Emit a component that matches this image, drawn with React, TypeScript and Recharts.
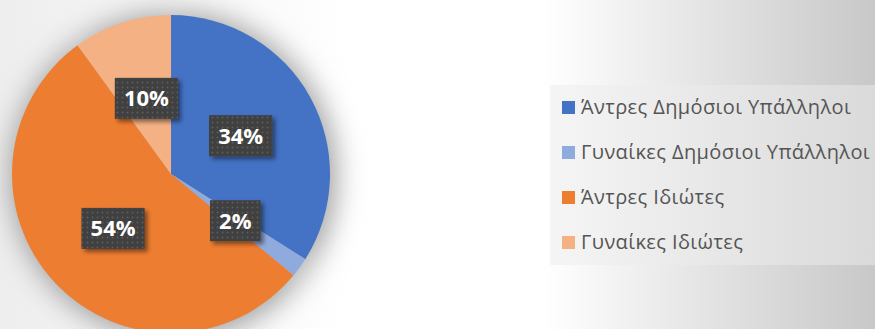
import { PieChart, Pie, Cell, Legend } from 'recharts'

const categories = [
  'Άντρες Δημόσιοι Υπάλληλοι',
  'Γυναίκες Δημόσιοι Υπάλληλοι',
  'Άντρες Ιδιώτες',
  'Γυναίκες Ιδιώτες',
]
const shares = [34, 2, 54, 10]
const colors = ['#4472C4', '#8FAADC', '#ED7D31', '#F4B183']

const data = categories.map((name, i) => ({ name, value: shares[i] }))

const RAD = Math.PI / 180

function DataLabel(props: any) {
  const { cx, cy, midAngle, outerRadius, percent } = props
  const r = outerRadius * 0.5
  const x = cx + r * Math.cos(-midAngle * RAD)
  const y = cy + r * Math.sin(-midAngle * RAD)
  const text = `${Math.round(percent * 100)}%`
  const w = (text.length - 1) * 12.6 + 19 + 19
  const h = 41
  return (
    <g>
      <rect x={x - w / 2} y={y - h / 2} width={w} height={h} fill='#404040' filter='url(#labelShadow)' />
      <rect x={x - w / 2} y={y - h / 2} width={w} height={h} fill='url(#dots)' />
      <text
        x={x}
        y={y}
        dy={8}
        textAnchor='middle'
        fill='#fff'
        fontFamily='"Open Sans", sans-serif'
        fontWeight={700}
        fontSize={22}
      >
        {text}
      </text>
    </g>
  )
}

// legend drawn from the same arrays so the glow pie stays out of it
function LegendBox() {
  return (
    <div
      style={{
        width: 325,
        height: 180,
        background: 'linear-gradient(to right, #f5f5f5, #dadada)',
        fontFamily: '"Open Sans", sans-serif',
        fontSize: 20,
        letterSpacing: 0.4,
        color: '#555555',
      }}
    >
      {categories.map((name, i) => (
        <div key={name} style={{ position: 'relative', height: 45 }}>
          <span
            style={{ position: 'absolute', left: 12, top: 16, width: 13, height: 13, background: colors[i] }}
          />
          <span style={{ position: 'absolute', left: 31, top: 8, lineHeight: '28px', whiteSpace: 'nowrap' }}>
            {name}
          </span>
        </div>
      ))}
    </div>
  )
}

export default function App() {
  return (
    <div
      style={{
        position: 'absolute',
        left: 0,
        top: 0,
        width: 875,
        height: 329,
        overflow: 'hidden',
        background:
          'linear-gradient(to right, #eeeeee 0%, #ffffff 40%, #ffffff 62%, #c8c8c8 100%)',
      }}
    >
      <style>{'.pie-glow { filter: blur(10px); }'}</style>
      <PieChart width={875} height={329} margin={{ top: 0, right: 0, bottom: 0, left: 0 }}>
        <defs>
          <pattern id='dots' width={5} height={5} patternUnits='userSpaceOnUse'>
            <circle cx={2.5} cy={2.5} r={0.9} fill='#5e5e5e' />
          </pattern>
          <filter id='labelShadow' x='-20%' y='-20%' width='150%' height='160%'>
            <feDropShadow dx={3} dy={3} stdDeviation={2} floodColor='#000' floodOpacity={0.45} />
          </filter>
        </defs>
        <Pie
          className='pie-glow'
          data={data}
          dataKey='value'
          nameKey='name'
          cx={173}
          cy={176}
          outerRadius={163}
          startAngle={90}
          endAngle={-270}
          stroke='#a0a0a0'
          fill='#a0a0a0'
          legendType='none'
          isAnimationActive={false}
        />
        <Pie
          data={data}
          dataKey='value'
          nameKey='name'
          cx={171}
          cy={174}
          outerRadius={159}
          startAngle={90}
          endAngle={-270}
          stroke='none'
          labelLine={false}
          label={DataLabel}
          isAnimationActive={false}
        >
          {data.map((d, i) => (
            <Cell key={d.name} fill={colors[i]} />
          ))}
        </Pie>
        <Legend
          layout='vertical'
          align='right'
          verticalAlign='top'
          wrapperStyle={{ left: 550, top: 85, width: 325, height: 180 }}
          content={LegendBox}
        />
      </PieChart>
    </div>
  )
}
